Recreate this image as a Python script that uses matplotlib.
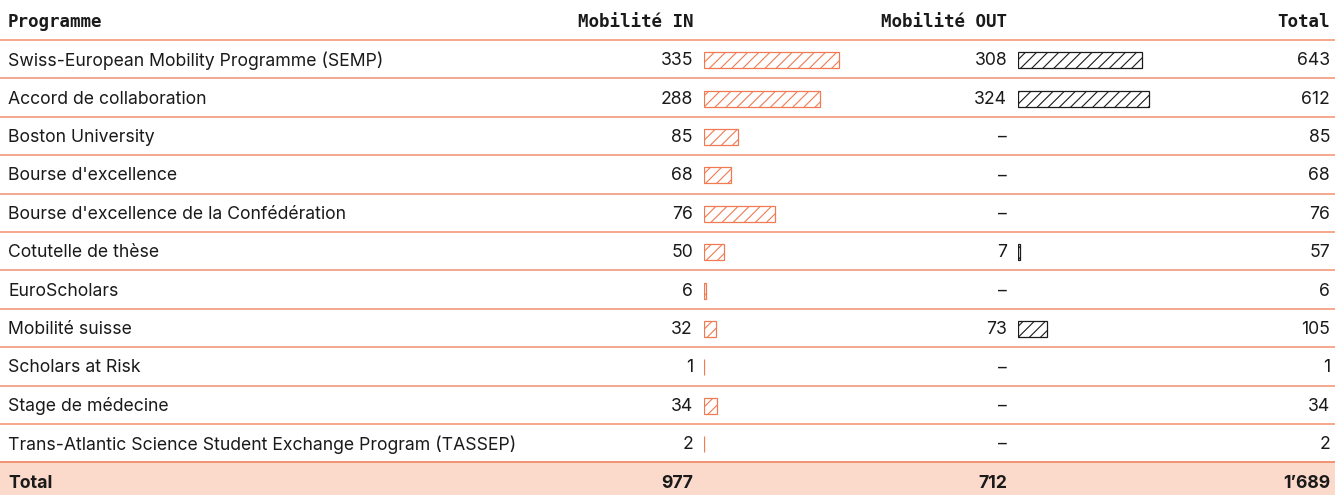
import matplotlib.pyplot as plt

plt.rcParams['hatch.linewidth'] = 0.8

programmes = [
    "Swiss-European Mobility Programme (SEMP)",
    "Accord de collaboration",
    "Boston University",
    "Bourse d'excellence",
    "Bourse d'excellence de la Confédération",
    "Cotutelle de thèse",
    "EuroScholars",
    "Mobilité suisse",
    "Scholars at Risk",
    "Stage de médecine",
    "Trans-Atlantic Science Student Exchange Program (TASSEP)",
]
mob_in = [335, 288, 85, 68, 76, 50, 6, 32, 1, 34, 2]
mob_out = [308, 324, None, None, None, 7, None, 73, None, None, None]
totals = [643, 612, 85, 68, 76, 57, 6, 105, 1, 34, 2]
# bar lengths as drawn in the reference (the 76 row has a longer bar than its label)
bar_in = [335, 288, 85, 68, 176, 50, 6, 32, 1, 34, 2]
total_labels = ["977", "712", "1\u2019689"]
headers = ["Programme", "Mobilité IN", "Mobilité OUT", "Total"]

coral = '#f07a52'
line_col = '#f29070'
W, H = 1335, 495
fig = plt.figure(figsize=(W / 100, H / 100), dpi=100)
ax = fig.add_axes([0, 0, 1, 1])
ax.set_xlim(0, W)
ax.set_ylim(H, 0)
ax.axis('off')

body = dict(family=['Inter', 'DejaVu Sans'], fontsize=12.7, color='#1a1a1a')
head = dict(family='DejaVu Sans Mono', fontweight='bold', fontsize=12.6, color='#1a1a1a')

top = 40
step = 38.4
n = len(programmes)
ys = [top + step * (i + 0.5) for i in range(n)]

# header
ax.text(8, 22, headers[0], ha='left', va='center', **head)
ax.text(693, 22, headers[1], ha='right', va='center', **head)
ax.text(1007, 22, headers[2], ha='right', va='center', **head)
ax.text(1330, 22, headers[3], ha='right', va='center', **head)

# separators
for k in range(n + 1):
    ax.plot([0, W], [top + step * k, top + step * k], color=line_col, lw=1.1)

# total background
tot_top = top + step * n
ax.fill_between([0, W], tot_top + 0.6, H, color='#fbdacb', lw=0)
ax.plot([0, W], [tot_top, tot_top], color=line_col, lw=1.1)

for i, y in enumerate(ys):
    yt = y + 1.5
    ax.text(8, yt, programmes[i], ha='left', va='center', **body)
    ax.text(693, yt, str(mob_in[i]), ha='right', va='center', **body)
    if mob_out[i] is None:
        ax.text(1007, yt, "\u2013", ha='right', va='center', **body)
    else:
        ax.text(1007, yt, str(mob_out[i]), ha='right', va='center', **body)
    ax.text(1330, yt, str(totals[i]), ha='right', va='center', **body)

yt = 483
ax.text(8, yt, "Total", ha='left', va='center', fontweight='bold', **body)
ax.text(693, yt, total_labels[0], ha='right', va='center', fontweight='bold', **body)
ax.text(1007, yt, total_labels[1], ha='right', va='center', fontweight='bold', **body)
ax.text(1330, yt, total_labels[2], ha='right', va='center', fontweight='bold', **body)

# bars
scale_max = 350
bw = scale_max * 0.405
ax_in = fig.add_axes([703.5 / W, 0, bw / W, 1])
ax_out = fig.add_axes([1017.5 / W, 0, bw / W, 1])
for a in (ax_in, ax_out):
    a.set_xlim(0, scale_max)
    a.set_ylim(H, 0)
    a.axis('off')
    a.patch.set_alpha(0)

ax_in.barh([y + 1 for y in ys], bar_in, height=16, left=0, color='none',
           edgecolor=coral, hatch='///', lw=0.9)
out_y = [ys[i] + 1 for i in range(n) if mob_out[i] is not None]
out_v = [mob_out[i] for i in range(n) if mob_out[i] is not None]
ax_out.barh(out_y, out_v, height=16, left=0, color='none', edgecolor='#1a1a1a',
            hatch='///', lw=0.9)

fig.savefig('out.png', dpi=100)
